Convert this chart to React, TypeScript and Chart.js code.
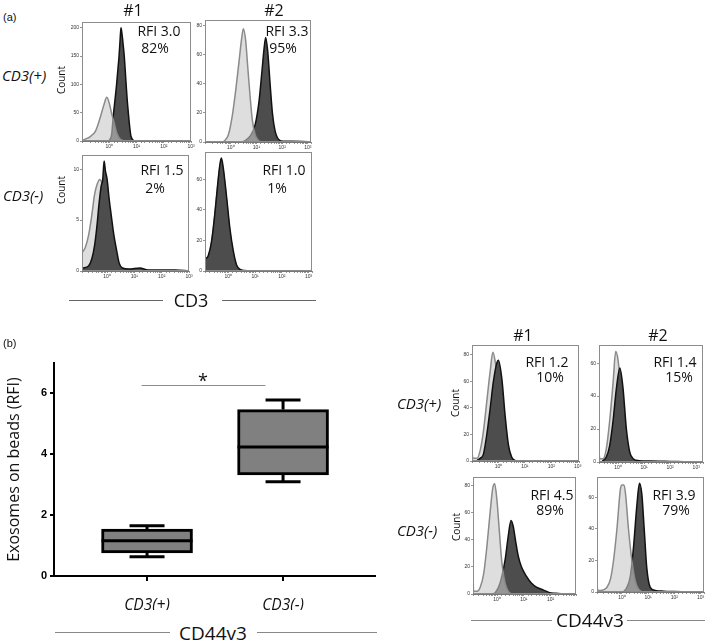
import React, { useEffect, useRef } from 'react';
import { Chart, registerables } from 'chart.js';

Chart.register(...registerables);

type Pt = [number, number]; // [log10 fluorescence, count]

// ---------- Panel (a) histograms : CD3 ----------
const A1_ISO: Pt[] = [[-1.0, 0], [-0.95, 2], [-0.85, 4], [-0.72, 7], [-0.62, 11], [-0.52, 16], [-0.42, 28], [-0.31, 45], [-0.19, 65], [-0.09, 77], [0.01, 65], [0.09, 48], [0.19, 30], [0.27, 15], [0.37, 5], [0.49, 1], [0.6, 0]];
const A1_POS: Pt[] = [[-0.05, 0], [0.03, 3], [0.09, 12], [0.15, 45], [0.21, 72], [0.27, 100], [0.32, 128], [0.36, 150], [0.4, 180], [0.43, 200], [0.47, 188], [0.51, 170], [0.55, 150], [0.62, 100], [0.66, 72], [0.7, 50], [0.75, 25], [0.79, 10], [0.85, 3], [0.92, 0]];

const A2_ISO: Pt[] = [[-0.29, 0], [-0.09, 5], [0.06, 18], [0.19, 35], [0.32, 55], [0.43, 72], [0.49, 78], [0.58, 70], [0.66, 52], [0.75, 32], [0.84, 15], [0.95, 5], [1.08, 1], [1.2, 0]];
const A2_POS: Pt[] = [[0.45, 0], [0.56, 1], [0.75, 4], [0.95, 12], [1.1, 28], [1.21, 48], [1.3, 65], [1.36, 72], [1.44, 62], [1.53, 40], [1.62, 20], [1.72, 8], [1.85, 2], [2.05, 0.5], [2.4, 0.5], [2.8, 0.3], [3.1, 0]];

const A3_ISO: Pt[] = [[-0.92, 1.8], [-0.8, 2.3], [-0.68, 3.5], [-0.56, 5.5], [-0.46, 7.5], [-0.37, 8.5], [-0.27, 9.0], [-0.19, 8.7], [-0.1, 7.8], [0, 6.0], [0.12, 4.0], [0.25, 2.0], [0.37, 0.8], [0.5, 0.2], [0.6, 0]];
const A3_POS: Pt[] = [[-0.89, 0.3], [-0.68, 0.5], [-0.56, 1.2], [-0.46, 2.5], [-0.37, 4.5], [-0.3, 6.5], [-0.22, 8.3], [-0.16, 9.0], [-0.11, 10.8], [-0.06, 9.8], [0, 9.0], [0.07, 7.2], [0.15, 5.5], [0.25, 3.5], [0.35, 2.0], [0.44, 0.8], [0.56, 0.3], [0.8, 0.2], [1.2, 0.3], [1.5, 0.1], [2.0, 0.1], [2.5, 0.1], [3.0, 0]];

const A4_ISO: Pt[] = [[-0.87, 6], [-0.75, 9], [-0.62, 19], [-0.5, 37], [-0.4, 55], [-0.3, 70], [-0.26, 72], [-0.19, 66], [-0.06, 46], [0.06, 26], [0.19, 11], [0.31, 3], [0.44, 0.5], [0.6, 0]];
const A4_POS: Pt[] = [[-0.85, 8], [-0.75, 10], [-0.62, 20], [-0.5, 38], [-0.4, 56], [-0.31, 70], [-0.26, 74], [-0.19, 68], [-0.06, 48], [0.06, 28], [0.19, 13], [0.31, 4], [0.44, 1], [0.6, 0.3], [1.0, 0]];

// ---------- Panel (b) histograms : CD44v3 ----------
const B1_ISO: Pt[] = [[-1.0, 8], [-0.97, 2], [-0.81, 2], [-0.69, 8], [-0.57, 22], [-0.44, 45], [-0.31, 68], [-0.21, 82], [-0.13, 76], [0, 55], [0.13, 30], [0.25, 12], [0.38, 3], [0.5, 0.5], [0.6, 0]];
const B1_POS: Pt[] = [[-0.8, 0.5], [-0.69, 2], [-0.57, 5], [-0.44, 20], [-0.31, 40], [-0.19, 60], [-0.06, 74], [0, 76], [0.13, 62], [0.25, 35], [0.38, 12], [0.5, 3], [0.62, 0.5], [0.8, 0]];

const B2_ISO: Pt[] = [[-0.73, 6], [-0.7, 2], [-0.58, 2], [-0.45, 8], [-0.32, 25], [-0.19, 48], [-0.09, 67], [0, 62], [0.13, 40], [0.26, 18], [0.38, 6], [0.5, 1], [0.6, 0]];
const B2_POS: Pt[] = [[-0.6, 0.5], [-0.45, 3], [-0.32, 10], [-0.19, 25], [-0.06, 45], [0.07, 57], [0.19, 45], [0.32, 20], [0.45, 6], [0.58, 2], [0.8, 0.8], [1.2, 0.6], [1.6, 0.5], [2.0, 0.3], [2.5, 0.2], [3.0, 0]];

const B3_ISO: Pt[] = [[-0.9, 22], [-0.88, 2], [-0.75, 2], [-0.63, 5], [-0.5, 15], [-0.38, 35], [-0.26, 60], [-0.16, 78], [-0.09, 81], [-0.01, 70], [0.09, 45], [0.17, 25], [0.3, 8], [0.42, 2], [0.55, 0]];
const B3_POS: Pt[] = [[-0.2, 0], [-0.07, 1], [0.11, 8], [0.3, 25], [0.42, 43], [0.52, 54], [0.6, 50], [0.7, 38], [0.79, 28], [0.91, 20], [1.1, 13], [1.28, 8], [1.47, 5], [1.72, 3], [1.96, 1], [2.2, 0.5], [2.5, 0]];

const B4_ISO: Pt[] = [[-0.95, 5], [-0.92, 1], [-0.83, 1], [-0.57, 3], [-0.44, 8], [-0.32, 20], [-0.19, 40], [-0.06, 65], [0.0, 68], [0.08, 68], [0.14, 62], [0.25, 40], [0.38, 20], [0.51, 7], [0.63, 2], [0.76, 0]];
const B4_POS: Pt[] = [[0.05, 0], [0.19, 3], [0.32, 10], [0.44, 28], [0.57, 55], [0.67, 69], [0.76, 62], [0.85, 40], [0.95, 15], [1.08, 3], [1.27, 1], [1.6, 0.5], [2.0, 0.3], [2.6, 0]];

const LOG_TICK_LABELS = ['10⁰', '10¹', '10²', '10³'];

// ---------- Box plot (panel b) ----------
const CATEGORIES = ['CD3(+)', 'CD3(-)'];
const BOX_MIN = [0.63, 3.1];
const BOX_Q1 = [0.76, 3.32];
const BOX_MEDIAN = [1.16, 4.24];
const BOX_Q3 = [1.54, 5.47];
const BOX_MAX = [1.65, 5.78];
const Y_TICK_STEP = 2;
const Y_MAX = 7;
const SIG_Y = 6.27;
const SIG_FROM = -0.04;
const SIG_TO = 0.87;

const FONT = "'Open Sans', sans-serif";

type HistProps = {
  area: [number, number, number, number];
  xr: [number, number];
  yMax: number;
  yStep: number;
  iso: Pt[];
  pos: Pt[];
  isoTop: boolean;
};

const framePlugin = {
  id: 'frame',
  afterDraw(chart: any) {
    const { ctx, chartArea: a } = chart;
    ctx.save();
    ctx.strokeStyle = '#8c8c8c';
    ctx.lineWidth = 1;
    ctx.strokeRect(a.left + 0.5, a.top + 0.5, a.right - a.left - 1, a.bottom - a.top - 1);
    ctx.restore();
  },
};

function Histogram({ area, xr, yMax, yStep, iso, pos, isoTop }: HistProps) {
  const ref = useRef<HTMLCanvasElement>(null);
  const [L, T, R, B] = area;
  const YW = 20, PT = 4, PR = 6, XH = 12;
  const cl = L - YW;
  const ct = T - PT;
  const w = R - L + YW + PR;
  const h = B - T + PT + XH;
  useEffect(() => {
    const tickFont = { size: 5, family: "'Liberation Sans', sans-serif" };
    const chart = new Chart(ref.current as HTMLCanvasElement, {
      type: 'line',
      data: {
        datasets: [
          {
            data: iso.map(([d, c]) => ({ x: 10 ** d, y: c })),
            fill: 'origin',
            backgroundColor: 'rgba(200,200,200,0.6)',
            borderColor: '#8a8a8a',
            borderWidth: 1.5,
            pointRadius: 0,
            cubicInterpolationMode: 'monotone',
            order: isoTop ? 0 : 1,
          },
          {
            data: pos.map(([d, c]) => ({ x: 10 ** d, y: c })),
            fill: 'origin',
            backgroundColor: '#4d4d4d',
            borderColor: '#111',
            borderWidth: 1.5,
            pointRadius: 0,
            cubicInterpolationMode: 'monotone',
            order: isoTop ? 1 : 0,
          },
        ],
      },
      options: {
        animation: false,
        responsive: false,
        events: [],
        layout: { padding: { left: 0, top: PT, right: PR, bottom: 0 } },
        plugins: { legend: { display: false }, tooltip: { enabled: false } },
        scales: {
          x: {
            type: 'logarithmic',
            min: 10 ** xr[0],
            max: 10 ** xr[1],
            afterFit: (s: any) => { s.height = XH; },
            grid: { drawOnChartArea: false, drawTicks: true, tickLength: 2, color: '#666', lineWidth: 0.7 },
            border: { display: true, color: '#777', width: 1 },
            ticks: {
              autoSkip: false,
              maxRotation: 0,
              padding: 1,
              font: tickFont,
              color: '#333',
              callback: (v: any) => {
                const l = Math.log10(Number(v));
                const r = Math.round(l);
                return Math.abs(l - r) < 1e-6 && r >= 0 && r <= 3 ? LOG_TICK_LABELS[r] : '';
              },
            },
          },
          y: {
            type: 'linear',
            min: 0,
            max: yMax,
            afterFit: (s: any) => { s.width = YW; },
            grid: { drawOnChartArea: false, drawTicks: true, tickLength: 2, color: '#666', lineWidth: 0.7 },
            border: { display: true, color: '#777', width: 1 },
            ticks: { stepSize: yStep, includeBounds: false, padding: 1, font: tickFont, color: '#333' },
          },
        },
      },
      plugins: [framePlugin],
    } as any);
    return () => chart.destroy();
  }, []);
  return (
    <canvas
      ref={ref}
      width={w}
      height={h}
      style={{ position: 'absolute', left: cl, top: ct, width: w, height: h }}
    />
  );
}

const whiskerPlugin = {
  id: 'whiskers',
  afterDatasetsDraw(chart: any) {
    const { ctx, scales } = chart;
    const x = scales.x, y = scales.y;
    const CAP = 35, BOXW = 91;
    const seg = (x1: number, y1: number, x2: number, y2: number) => {
      ctx.beginPath();
      ctx.moveTo(x1, y1);
      ctx.lineTo(x2, y2);
      ctx.stroke();
    };
    ctx.save();
    ctx.strokeStyle = '#000';
    ctx.lineWidth = 3;
    CATEGORIES.forEach((_, i) => {
      const cx = x.getPixelForValue(i);
      const yMin = y.getPixelForValue(BOX_MIN[i]);
      const yQ1 = y.getPixelForValue(BOX_Q1[i]);
      const yMed = y.getPixelForValue(BOX_MEDIAN[i]);
      const yQ3 = y.getPixelForValue(BOX_Q3[i]);
      const yMax = y.getPixelForValue(BOX_MAX[i]);
      seg(cx, yQ3, cx, yMax);
      seg(cx - CAP / 2, yMax, cx + CAP / 2, yMax);
      seg(cx, yQ1, cx, yMin);
      seg(cx - CAP / 2, yMin, cx + CAP / 2, yMin);
      seg(cx - BOXW / 2, yMed, cx + BOXW / 2, yMed);
    });
    ctx.strokeStyle = '#8a8a8a';
    ctx.lineWidth = 1;
    const sy = Math.round(y.getPixelForValue(SIG_Y)) + 0.5;
    seg(x.getPixelForValue(SIG_FROM), sy, x.getPixelForValue(SIG_TO), sy);
    ctx.restore();
  },
};

function BoxPlot() {
  const ref = useRef<HTMLCanvasElement>(null);
  const CL = 0, CT = 340, W = 385, H = 270;
  useEffect(() => {
    const chart = new Chart(ref.current as HTMLCanvasElement, {
      type: 'bar',
      data: {
        datasets: [
          {
            data: CATEGORIES.map((_, i) => ({ x: i, y: [BOX_Q1[i], BOX_Q3[i]] })),
            backgroundColor: '#808080',
            borderColor: '#000',
            borderWidth: 3,
            borderSkipped: false,
            barThickness: 91,
          },
        ],
      },
      options: {
        animation: false,
        responsive: false,
        events: [],
        layout: { padding: { left: 0, top: 23, right: 10, bottom: 0 } },
        plugins: { legend: { display: false }, tooltip: { enabled: false } },
        scales: {
          x: {
            type: 'linear',
            offset: false,
            min: -0.684,
            max: 1.676,
            afterFit: (s: any) => { s.height = 34; },
            afterBuildTicks: (s: any) => { s.ticks = CATEGORIES.map((_, i) => ({ value: i })); },
            grid: { offset: false, drawOnChartArea: false, drawTicks: true, tickLength: 5, color: '#000', lineWidth: 2 },
            border: { display: true, color: '#000', width: 2 },
            ticks: {
              autoSkip: false,
              maxRotation: 0,
              padding: 15,
              color: '#111',
              font: { family: FONT, size: 15.5, style: 'italic' },
              callback: (v: any) => CATEGORIES[Number(v)] ?? '',
            },
          },
          y: {
            type: 'linear',
            min: 0,
            max: Y_MAX,
            afterFit: (s: any) => { s.width = 54; },
            grid: { drawOnChartArea: false, drawTicks: true, tickLength: 4, color: '#000', lineWidth: 2 },
            border: { display: true, color: '#000', width: 2 },
            ticks: {
              stepSize: Y_TICK_STEP,
              includeBounds: false,
              padding: 3,
              color: '#000',
              font: { family: "'Liberation Sans', sans-serif", size: 11, weight: 'bold' },
            },
            title: {
              display: true,
              text: 'Exosomes on beads (RFI)',
              color: '#111',
              font: { family: FONT, size: 16 },
              padding: { top: 5, bottom: 0 },
            },
          },
        },
      },
      plugins: [whiskerPlugin],
    } as any);
    return () => chart.destroy();
  }, []);
  return (
    <canvas
      ref={ref}
      width={W}
      height={H}
      style={{ position: 'absolute', left: CL, top: CT, width: W, height: H }}
    />
  );
}

type TxtProps = {
  x: number;
  y: number;
  s: number;
  children: React.ReactNode;
  italic?: boolean;
  start?: boolean;
  rotate?: boolean;
  family?: string;
  weight?: number;
};

function Txt({ x, y, s, children, italic, start, rotate, family, weight }: TxtProps) {
  return (
    <div
      style={{
        position: 'absolute',
        left: x,
        top: y,
        transform: `translate(${start ? '0' : '-50%'}, -50%)${rotate ? ' rotate(-90deg)' : ''}`,
        fontSize: s,
        fontStyle: italic ? 'italic' : 'normal',
        fontWeight: weight ?? 400,
        fontFamily: family ?? FONT,
        lineHeight: 1,
        whiteSpace: 'nowrap',
        color: '#111',
      }}
    >
      {children}
    </div>
  );
}

function HLine({ x1, x2, y, color = '#666' }: { x1: number; x2: number; y: number; color?: string }) {
  return <div style={{ position: 'absolute', left: x1, top: y, width: x2 - x1, height: 1, background: color }} />;
}

const HISTS: HistProps[] = [
  { area: [82, 22, 191, 141], xr: [-1, 3], yMax: 210, yStep: 50, iso: A1_ISO, pos: A1_POS, isoTop: true },
  { area: [205, 20, 311, 142], xr: [-1, 3.12], yMax: 84, yStep: 20, iso: A2_ISO, pos: A2_POS, isoTop: true },
  { area: [82, 155, 189, 271], xr: [-0.92, 3], yMax: 11.4, yStep: 5, iso: A3_ISO, pos: A3_POS, isoTop: false },
  { area: [205, 152, 312, 271], xr: [-0.87, 3.13], yMax: 78, yStep: 20, iso: A4_ISO, pos: A4_POS, isoTop: false },
  { area: [472, 345, 579, 461], xr: [-1, 3.05], yMax: 87.5, yStep: 20, iso: B1_ISO, pos: B1_POS, isoTop: false },
  { area: [599, 345, 703, 462], xr: [-0.73, 3.26], yMax: 71, yStep: 20, iso: B2_ISO, pos: B2_POS, isoTop: false },
  { area: [473, 477, 576, 594], xr: [-0.9, 2.95], yMax: 86, yStep: 20, iso: B3_ISO, pos: B3_POS, isoTop: true },
  { area: [597, 477, 704, 592], xr: [-0.95, 3.13], yMax: 73, yStep: 20, iso: B4_ISO, pos: B4_POS, isoTop: true },
];

export default function App() {
  return (
    <div style={{ position: 'absolute', left: 0, top: 0, width: 709, height: 642, background: '#fff', overflow: 'hidden' }}>
      {HISTS.map((h, i) => (
        <Histogram key={i} {...h} />
      ))}
      <BoxPlot />

      {/* Panel (a) labels */}
      <Txt x={3} y={17} s={11} start family="'Liberation Sans', sans-serif">(a)</Txt>
      <Txt x={133} y={10} s={16}>#1</Txt>
      <Txt x={274} y={10} s={16}>#2</Txt>
      <Txt x={2} y={75} s={15} start italic>CD3(+)</Txt>
      <Txt x={3} y={195} s={15} start italic>CD3(-)</Txt>
      <Txt x={61} y={80} s={10} rotate>Count</Txt>
      <Txt x={61} y={190} s={10} rotate>Count</Txt>
      <Txt x={159} y={31} s={14}>RFI 3.0</Txt>
      <Txt x={155} y={48} s={14}>82%</Txt>
      <Txt x={287} y={31} s={14}>RFI 3.3</Txt>
      <Txt x={283} y={48} s={14}>95%</Txt>
      <Txt x={162} y={170} s={14}>RFI 1.5</Txt>
      <Txt x={155} y={188} s={14}>2%</Txt>
      <Txt x={284} y={170} s={14}>RFI 1.0</Txt>
      <Txt x={277} y={188} s={14}>1%</Txt>
      <HLine x1={69} x2={163} y={300} />
      <Txt x={191} y={300} s={18}>CD3</Txt>
      <HLine x1={222} x2={316} y={300} />

      {/* Panel (b) labels */}
      <Txt x={3} y={343} s={11} start family="'Liberation Sans', sans-serif">(b)</Txt>
      <Txt x={203} y={380} s={18}>*</Txt>
      <HLine x1={55} x2={170} y={632} color="#888" />
      <Txt x={213} y={633} s={19}>CD44v3</Txt>
      <HLine x1={257} x2={377} y={632} color="#888" />

      <Txt x={523} y={335} s={16}>#1</Txt>
      <Txt x={658} y={335} s={16}>#2</Txt>
      <Txt x={397} y={403} s={15} start italic>CD3(+)</Txt>
      <Txt x={397} y={530} s={15} start italic>CD3(-)</Txt>
      <Txt x={455} y={403} s={10} rotate>Count</Txt>
      <Txt x={456} y={527} s={10} rotate>Count</Txt>
      <Txt x={547} y={362} s={14}>RFI 1.2</Txt>
      <Txt x={550} y={377} s={14}>10%</Txt>
      <Txt x={675} y={362} s={14}>RFI 1.4</Txt>
      <Txt x={679} y={377} s={14}>15%</Txt>
      <Txt x={552} y={495} s={14}>RFI 4.5</Txt>
      <Txt x={550} y={510} s={14}>89%</Txt>
      <Txt x={674} y={495} s={14}>RFI 3.9</Txt>
      <Txt x={676} y={510} s={14}>79%</Txt>
      <HLine x1={471} x2={552} y={620} color="#888" />
      <Txt x={590} y={620} s={19}>CD44v3</Txt>
      <HLine x1={627} x2={705} y={620} color="#888" />
    </div>
  );
}
